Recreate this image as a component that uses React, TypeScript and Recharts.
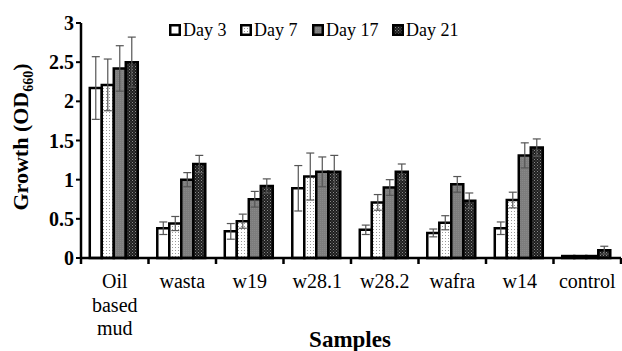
import { Bar, BarChart, ErrorBar, XAxis, YAxis } from "recharts";

const SAMPLES = ["Oil based mud", "wasta", "w19", "w28.1", "w28.2", "wafra", "w14", "control"];
const DAY3 = [2.17, 0.38, 0.34, 0.89, 0.36, 0.32, 0.38, 0.025];
const DAY3_ERR = [0.4, 0.08, 0.1, 0.29, 0.06, 0.05, 0.08, 0];
const DAY7 = [2.21, 0.44, 0.47, 1.04, 0.71, 0.45, 0.74, 0.025];
const DAY7_ERR = [0.33, 0.09, 0.09, 0.3, 0.1, 0.09, 0.1, 0];
const DAY17 = [2.42, 1.0, 0.75, 1.1, 0.9, 0.94, 1.31, 0.025];
const DAY17_ERR = [0.29, 0.09, 0.1, 0.19, 0.1, 0.1, 0.16, 0];
const DAY21 = [2.5, 1.2, 0.92, 1.1, 1.1, 0.73, 1.41, 0.1];
const DAY21_ERR = [0.32, 0.11, 0.09, 0.21, 0.1, 0.1, 0.11, 0.05];
const Y_TICKS = [0, 0.5, 1, 1.5, 2, 2.5, 3];
const SERIES = [
  { key: "d3", err: "e3", name: "Day 3", fill: "#ffffff", legendX: 169 },
  { key: "d7", err: "e7", name: "Day 7", fill: "url(#dots7)", legendX: 240 },
  { key: "d17", err: "e17", name: "Day 17", fill: "url(#grey17)", legendX: 312 },
  { key: "d21", err: "e21", name: "Day 21", fill: "url(#dark21)", legendX: 392 },
];

const data = SAMPLES.map((s, i) => ({
  sample: s,
  d3: DAY3[i],
  e3: DAY3_ERR[i],
  d7: DAY7[i],
  e7: DAY7_ERR[i],
  d17: DAY17[i],
  e17: DAY17_ERR[i],
  d21: DAY21[i],
  e21: DAY21_ERR[i],
}));

const FONT = "Liberation Serif";

function SampleTick(props: any) {
  const { x, y, payload, index } = props;
  const half = payload?.offset || 33.75;
  const lines = String(payload.value).split(" ");
  return (
    <g>
      <line x1={x - half} x2={x - half} y1={y} y2={y + 6} stroke="#000" strokeWidth={2.5} />
      {index === SAMPLES.length - 1 && (
        <line x1={x + half} x2={x + half} y1={y} y2={y + 6} stroke="#000" strokeWidth={2.5} />
      )}
      <text x={x} y={y + 30} textAnchor="middle" fontFamily={FONT} fontSize={20} fill="#000">
        {lines.map((l, i) => (
          <tspan key={i} x={x} dy={i === 0 ? 0 : 23.5}>
            {l}
          </tspan>
        ))}
      </text>
    </g>
  );
}

function Swatch({ fill }: { fill: string }) {
  return (
    <svg width={12} height={12} style={{ marginRight: 2 }}>
      <rect x={1.25} y={1.25} width={9.5} height={9.5} fill={fill} stroke="#000" strokeWidth={2.5} />
    </svg>
  );
}

export default function App() {
  return (
    <div style={{ position: "absolute", left: 0, top: 0, width: 622, height: 351, background: "#fff" }}>
      <BarChart
        width={622}
        height={351}
        data={data}
        margin={{ top: 23, right: 1, left: 0, bottom: 0 }}
        barCategoryGap="13%"
        barGap={0}
      >
        <defs>
          <pattern id="dots7" width={3} height={3} patternUnits="userSpaceOnUse">
            <rect width={3} height={3} fill="#ffffff" />
            <rect x={1} y={1} width={1} height={1} fill="#9a9a9a" />
          </pattern>
          <pattern id="grey17" width={2} height={2} patternUnits="userSpaceOnUse">
            <rect width={2} height={2} fill="#7d7d7d" />
            <rect width={1} height={1} fill="#888" />
          </pattern>
          <pattern id="dark21" width={3} height={3} patternUnits="userSpaceOnUse">
            <rect width={3} height={3} fill="#1e1e1e" />
            <rect x={0} y={0} width={1} height={1} fill="#8a8a8a" />
            <rect x={1.5} y={1.5} width={1} height={1} fill="#6a6a6a" />
          </pattern>
        </defs>
        <XAxis
          dataKey="sample"
          interval={0}
          height={93}
          tickSize={0}
          tickMargin={0}
          axisLine={{ stroke: "#000", strokeWidth: 2.5 }}
          tick={<SampleTick />}
        />
        <YAxis
          domain={[0, 3]}
          ticks={Y_TICKS}
          width={81}
          tickSize={5}
          axisLine={{ stroke: "#000", strokeWidth: 2.5 }}
          tickLine={{ stroke: "#000", strokeWidth: 2 }}
          tick={{ fill: "#000", fontSize: 20, fontWeight: 700, fontFamily: FONT }}
          label={{
            content: () => (
              <text
                transform="translate(28, 137) rotate(-90)"
                textAnchor="middle"
                fontFamily={FONT}
                fontWeight={700}
                fontSize={22}
                fill="#000"
              >
                Growth (OD
                <tspan fontSize={14} dy={5}>
                  660
                </tspan>
                <tspan dy={-5}>)</tspan>
              </text>
            ),
          }}
        />
        {SERIES.map((s) => (
          <Bar
            key={s.key}
            dataKey={s.key}
            name={s.name}
            fill={s.fill}
            stroke="#000"
            strokeWidth={2.5}
            isAnimationActive={false}
          >
            <ErrorBar dataKey={s.err} direction="y" width={4} stroke="#555" strokeWidth={1.2} />
          </Bar>
        ))}
        <text x={350} y={347} textAnchor="middle" fontFamily={FONT} fontWeight={700} fontSize={23} fill="#000">
          Samples
        </text>
      </BarChart>
      {SERIES.map((s) => (
        <div
          key={s.key}
          style={{
            position: "absolute",
            left: s.legendX,
            top: 20,
            display: "flex",
            alignItems: "center",
            fontFamily: FONT,
            fontSize: 18,
            color: "#000",
            lineHeight: "20px",
            whiteSpace: "nowrap",
          }}
        >
          <Swatch fill={s.fill} />
          <span>{s.name}</span>
        </div>
      ))}
    </div>
  );
}
